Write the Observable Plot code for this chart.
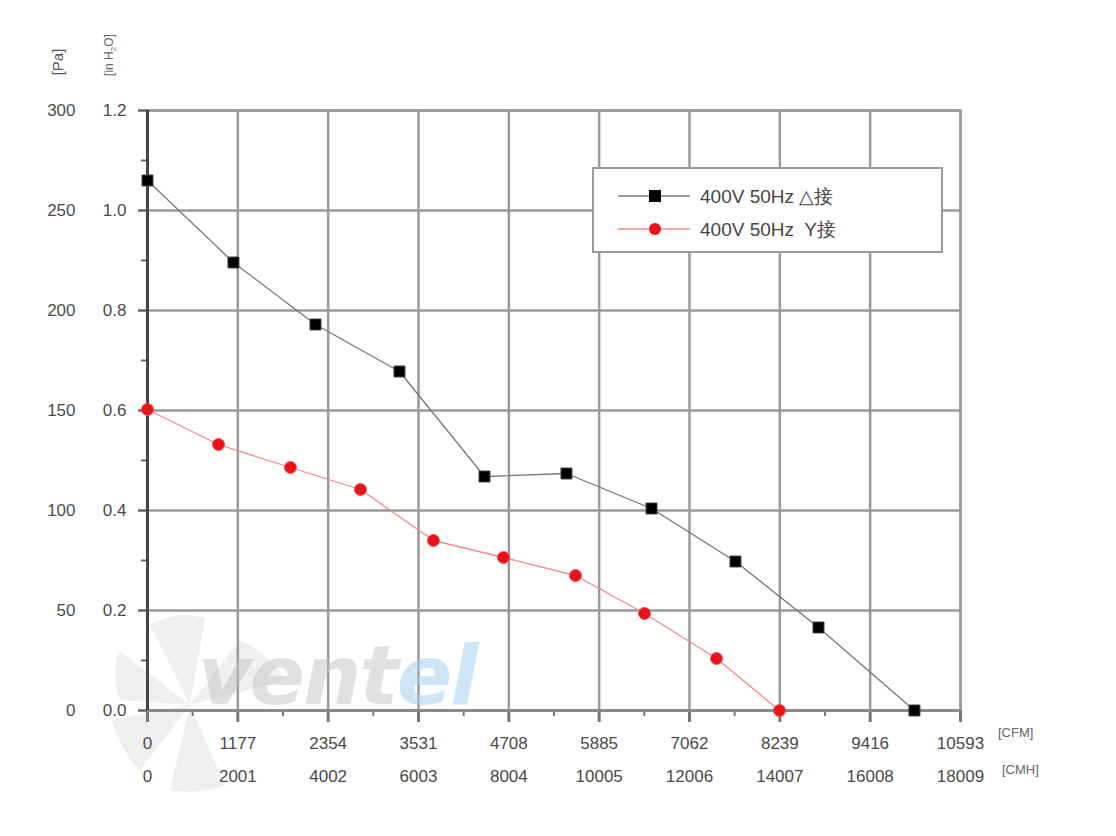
<!DOCTYPE html>
<html>
<head>
<meta charset="utf-8">
<script src="https://cdn.jsdelivr.net/npm/d3@7"></script>
<script src="https://cdn.jsdelivr.net/npm/@observablehq/plot@0.6"></script>
<style>
  html, body { margin: 0; padding: 0; background: #fff; }
  #wrap { position: relative; width: 1116px; height: 836px; overflow: hidden; font-family: "Liberation Sans", Arial, sans-serif; }
  #chart { position: absolute; left: 0; top: 0; }
  .ov { position: absolute; pointer-events: none; }
</style>
</head>
<body>
<div id="wrap">
  <svg class="ov" style="left:0;top:0" width="1116" height="836">
    <g fill="#e6e6e6" opacity="0.6">
      <path d="M190,705 L150,625 Q175,610 205,618 Z"/>
      <path d="M190,705 L118,650 Q112,680 120,700 Z"/>
      <path d="M190,705 L112,720 Q118,748 140,770 Z"/>
      <path d="M190,705 L170,790 Q200,795 225,785 Z"/>
      <path d="M190,705 L240,640 Q270,655 285,680 Z"/>
    </g>
  </svg>
  <div id="chart"></div>
</div>
<script>
// ---- data ----
const cfmTicks = [0, 1177, 2354, 3531, 4708, 5885, 7062, 8239, 9416, 10593];
const cmhLabels = ["0", "2001", "4002", "6003", "8004", "10005", "12006", "14007", "16008", "18009"];
const paTicks = [0, 50, 100, 150, 200, 250, 300];
const inh2oLabels = ["0.0", "0.2", "0.4", "0.6", "0.8", "1.0", "1.2"];

const deltaName = "400V 50Hz △接";
const deltaCFM = [0, 1120, 2189, 3283, 4391, 5459, 6567, 7661, 8743, 9993];
const deltaPa  = [265, 224, 193, 169.5, 117, 118.5, 101, 74.5, 41.5, 0];

const starName = "400V 50Hz  Y接";
const starCFM = [0, 925, 1863, 2775, 3726, 4638, 5577, 6476, 7414, 8235];
const starPa  = [150.5, 133, 121.5, 110.5, 85, 76.5, 67.5, 48.5, 26, 0];

const deltaData = deltaCFM.map((x, i) => ({x, y: deltaPa[i]}));
const starData = starCFM.map((x, i) => ({x, y: starPa[i]}));
const minorX = cfmTicks.slice(0, -1).map((d, i) => (d + cfmTicks[i + 1]) / 2);
const minorY = paTicks.slice(0, -1).map((d, i) => (d + paTicks[i + 1]) / 2);

const textColor = "#4a4a4a";
const gridColor = "#9a9a9a";

const chart = Plot.plot({
  width: 1116,
  height: 836,
  marginLeft: 147,
  marginRight: 156,
  marginTop: 110,
  marginBottom: 126,
  style: {background: "transparent", fontFamily: "'Liberation Sans', Arial, sans-serif"},
  x: {domain: [0, 10593], label: null},
  y: {domain: [0, 300], label: null},
  marks: [
    Plot.gridX(cfmTicks, {stroke: gridColor, strokeOpacity: 1, strokeWidth: 2.5}),
    Plot.gridY(paTicks, {stroke: gridColor, strokeOpacity: 1, strokeWidth: 2.5}),
    Plot.frame({stroke: gridColor, strokeWidth: 2.5}),
    // x ticks (major / minor)
    Plot.axisX({ticks: cfmTicks, label: null, tickSize: 12, tickFormat: () => "", stroke: "#777", strokeWidth: 3}),
    Plot.axisX({ticks: minorX, label: null, tickSize: 6, tickFormat: () => "", stroke: "#777", strokeWidth: 2}),
    // x labels CFM / CMH
    Plot.axisX({ticks: cfmTicks, label: null, tickSize: 0, tickPadding: 26, tickFormat: d => String(d), fontSize: 17, fill: textColor}),
    Plot.axisX({ticks: cfmTicks, label: null, tickSize: 0, tickPadding: 59, tickFormat: d => cmhLabels[cfmTicks.indexOf(d)], fontSize: 17, fill: textColor}),
    // y ticks and labels
    Plot.axisY({ticks: paTicks, label: null, tickSize: 9, tickPadding: 63, tickFormat: d => String(d), fontSize: 17, fill: textColor, stroke: "#666", strokeWidth: 2.5}),
    Plot.axisY({ticks: minorY, label: null, tickSize: 6, tickFormat: () => "", stroke: "#666", strokeWidth: 2}),
    Plot.axisY({ticks: paTicks, label: null, tickSize: 0, tickPadding: 21, tickFormat: d => inh2oLabels[paTicks.indexOf(d)], fontSize: 17, fill: textColor}),
    // axis lines
    Plot.ruleY([0], {stroke: "#8a8a8a", strokeWidth: 3}),
    Plot.ruleX([0], {stroke: "#444", strokeWidth: 3}),
    // series
    Plot.line(deltaData, {x: "x", y: "y", stroke: "#777", strokeWidth: 1.3}),
    Plot.line(starData, {x: "x", y: "y", stroke: "#f28a8a", strokeWidth: 1.3}),
    Plot.dot(deltaData, {x: "x", y: "y", symbol: "square", r: 6.2, fill: "#000", stroke: "#444", strokeWidth: 1}),
    Plot.dot(starData, {x: "x", y: "y", symbol: "circle", r: 6, fill: "#e8141a", stroke: "#f05050", strokeWidth: 1})
  ]
});
document.getElementById("chart").appendChild(chart);

const wrap = document.getElementById("wrap");
function add(html) { wrap.insertAdjacentHTML("beforeend", html); }

// watermark brand text
add(`<div class="ov" style="left:198px;top:628px;font:italic bold 82px 'DejaVu Sans',sans-serif;letter-spacing:-2px;color:rgba(195,195,195,0.5)">vent<span style="color:rgba(165,208,236,0.55)">el</span></div>`);

// rotated unit labels
add(`<div class="ov" style="left:57px;top:62px;transform:translate(-50%,-50%) rotate(-90deg);font-size:15px;color:#555;white-space:nowrap">[Pa]</div>`);
add(`<div class="ov" style="left:110px;top:55px;transform:translate(-50%,-50%) rotate(-90deg);font-size:12px;color:#666;white-space:nowrap">[in H<sub style="font-size:8px">2</sub>O]</div>`);
add(`<div class="ov" style="left:998px;top:725px;font-size:13px;color:#666">[CFM]</div>`);
add(`<div class="ov" style="left:1002px;top:762px;font-size:13px;color:#666">[CMH]</div>`);

// legend
add(`<div class="ov" style="left:592px;top:167px;width:347px;height:82px;border:2px solid #9a9a9a;background:#fff"></div>`);
add(`<svg class="ov" style="left:610px;top:180px" width="90" height="66">
  <line x1="8" y1="16" x2="80" y2="16" stroke="#777" stroke-width="1.3"/>
  <rect x="39" y="10" width="12" height="12" fill="#000"/>
  <line x1="8" y1="49" x2="80" y2="49" stroke="#f28a8a" stroke-width="1.3"/>
  <circle cx="45" cy="49" r="6" fill="#e8141a"/>
</svg>`);
add(`<div class="ov" style="left:700px;top:184px;font-size:19px;color:#444;white-space:pre">${deltaName}</div>`);
add(`<div class="ov" style="left:700px;top:217px;font-size:19px;color:#444;white-space:pre">${starName}</div>`);
</script>
</body>
</html>
